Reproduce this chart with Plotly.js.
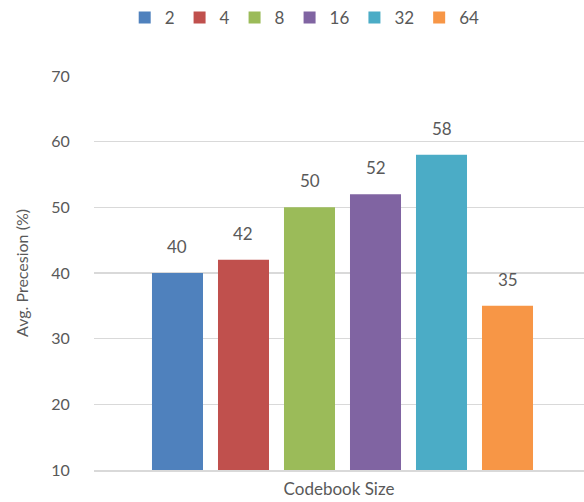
<!DOCTYPE html>
<html>
<head>
<meta charset="utf-8">
<script src="https://cdn.plot.ly/plotly-3.0.1.min.js"></script>
<style>html,body{margin:0;padding:0;background:#fff;}#chart{width:584px;height:502px;}</style>
</head>
<body>
<div id="chart"></div>
<script>
const categories = ["2", "4", "8", "16", "32", "64"];
const values = [40, 42, 50, 52, 58, 35];
const colors = ["#4F81BD", "#C0504D", "#9BBB59", "#8064A2", "#4BACC6", "#F79646"];
const yTicks = [10, 20, 30, 40, 50, 60, 70];

const font = "Lato, 'Open Sans', sans-serif";
const traces = categories.map((c, i) => ({
  type: "bar",
  name: c,
  x: [c],
  y: [values[i]],
  width: 0.773,
  marker: {color: colors[i]},
  hoverinfo: "skip"
}));

// category axis positions are indices, so annotations use the category index
const annotations = categories.map((c, i) => ({
  x: categories.indexOf(c), y: values[i], xref: "x", yref: "y",
  text: String(values[i]), showarrow: false,
  yanchor: "bottom", yshift: 14,
  font: {family: font, size: 17, color: "#595959"}
}));

const layout = {
  width: 584, height: 502,
  margin: {l: 94, r: 0, t: 76, b: 32},
  paper_bgcolor: "#fff", plot_bgcolor: "#fff",
  barmode: "overlay",
  showlegend: true,
  annotations: annotations,
  legend: {orientation: "h", x: 0.43, xanchor: "center", y: 1, yref: "container", yanchor: "top",
           font: {family: font, size: 17, color: "#595959"}, itemwidth: 30, tracegroupgap: 0},
  xaxis: {type: "category", categoryorder: "array", categoryarray: categories,
          range: [-1.265, 6.159], showticklabels: false, ticks: "",
          showgrid: false, zeroline: false, showline: true, linecolor: "#D9D9D9", linewidth: 1.5,
          title: {text: "Codebook Size", standoff: 12, font: {family: font, size: 17, color: "#595959"}}},
  yaxis: {range: [10, 70], tickvals: yTicks, ticktext: yTicks.map(String),
          showgrid: true, gridcolor: "#D9D9D9", gridwidth: 1.5, zeroline: false, showline: false,
          ticks: "outside", ticklen: 20, tickcolor: "rgba(0,0,0,0)",
          tickfont: {family: font, size: 16, color: "#595959"},
          title: {text: "Avg. Precesion (%)", standoff: 18, font: {family: font, size: 16, color: "#595959"}}},
  font: {family: font}
};

Plotly.newPlot("chart", traces, layout, {displayModeBar: false, staticPlot: true});
</script>
</body>
</html>
